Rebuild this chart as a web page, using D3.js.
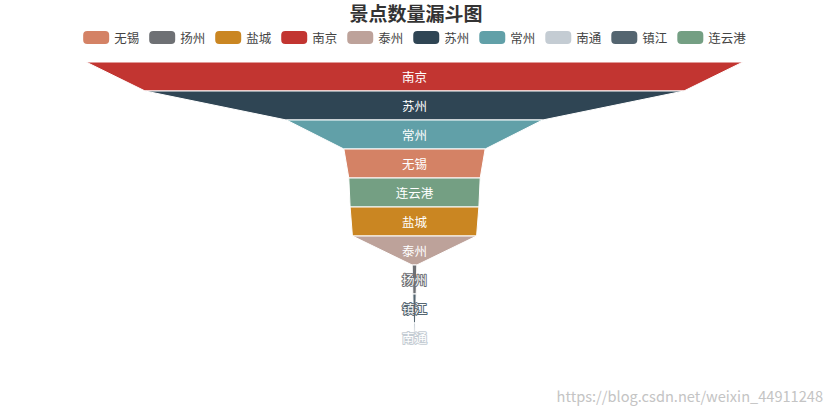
<!DOCTYPE html>
<html>
<head>
<meta charset="utf-8">
<script src="https://cdn.jsdelivr.net/npm/d3@7/dist/d3.min.js"></script>
<style>
  html, body { margin: 0; padding: 0; background: #fff; }
  svg { display: block; }
  text { font-family: "Noto Sans CJK SC", "Noto Sans", sans-serif; }
</style>
</head>
<body>
<svg id="chart" width="831" height="416"></svg>
<script>
// ---- data ----
const titleText = "景点数量漏斗图";
const categories = ["南京", "苏州", "常州", "无锡", "连云港", "盐城", "泰州", "扬州", "镇江", "南通"];
const values = [100, 82, 39, 21.5, 20, 19.6, 18.9, 0.7, 0.5, 0.3];
const legendOrder = ["无锡", "扬州", "盐城", "南京", "泰州", "苏州", "常州", "南通", "镇江", "连云港"];
const colorNames = ["南京", "苏州", "常州", "无锡", "连云港", "盐城", "泰州", "扬州", "镇江", "南通"];
const colorValues = ["#c23531", "#2f4554", "#61a0a8", "#d48265", "#749f83", "#ca8622", "#bda29a", "#6e7074", "#546570", "#c4ccd3"];
const watermark = "https://blog.csdn.net/weixin_44911248";

// ---- layout ----
const svg = d3.select("#chart");
const cx = 414.5;
const funnelTop = 62, funnelBottom = 352;
const maxWidth = 657;

const color = d3.scaleOrdinal(colorNames, colorValues);
const w = d3.scaleLinear([0, 100], [0, maxWidth]).clamp(true);
const y = d3.scaleBand(categories, [funnelTop, funnelBottom]).padding(0);

// Title
svg.append("text")
  .attr("x", 416).attr("y", 21)
  .attr("text-anchor", "middle")
  .attr("font-size", 19).attr("font-weight", "bold")
  .attr("fill", "#333")
  .text(titleText);

// Legend
const iconW = 26, iconH = 13, textGap = 5, itemGap = 10, legendFont = 12.5;
const legend = svg.append("g");
let lx = 0;
const items = [];
legendOrder.forEach(name => {
  const g = legend.append("g");
  g.append("rect")
    .attr("x", 0).attr("y", -iconH / 2)
    .attr("width", iconW).attr("height", iconH)
    .attr("rx", 4).attr("ry", 4)
    .attr("fill", color(name));
  const t = g.append("text")
    .attr("x", iconW + textGap).attr("y", 0)
    .attr("dominant-baseline", "central")
    .attr("font-size", legendFont)
    .attr("fill", "#444")
    .text(name);
  const tw = t.node().getComputedTextLength();
  items.push({ g, x: lx });
  lx += iconW + textGap + tw + itemGap;
});
const legendWidth = lx - itemGap;
const legendStart = cx - legendWidth / 2;
items.forEach(it => it.g.attr("transform", `translate(${legendStart + it.x},37.5)`));

// Funnel
const layers = categories.map((c, i) => ({
  name: c,
  top: values[i],
  bottom: i + 1 < values.length ? values[i + 1] : 0
}));

const funnel = svg.append("g");
funnel.selectAll("path")
  .data(layers)
  .join("path")
  .attr("d", d => {
    const y0 = y(d.name), y1 = y0 + y.bandwidth();
    const tw = w(d.top) / 2, bw = w(d.bottom) / 2;
    return `M${cx - tw},${y0}L${cx + tw},${y0}L${cx + bw},${y1}L${cx - bw},${y1}Z`;
  })
  .attr("fill", d => color(d.name))
  .attr("stroke", "#fff")
  .attr("stroke-width", 1)
  .attr("stroke-linejoin", "round");

funnel.selectAll("text")
  .data(layers)
  .join("text")
  .attr("x", cx)
  .attr("y", d => y(d.name) + y.bandwidth() / 2)
  .attr("text-anchor", "middle")
  .attr("dominant-baseline", "central")
  .attr("font-size", 12.5)
  .attr("fill", "#fff")
  .attr("stroke", d => color(d.name))
  .attr("stroke-width", 2)
  .attr("paint-order", "stroke")
  .attr("stroke-linejoin", "round")
  .text(d => d.name);

// Watermark
svg.append("text")
  .attr("x", 823).attr("y", 402)
  .attr("text-anchor", "end")
  .attr("font-family", "'Liberation Sans', Arial, sans-serif")
  .attr("font-size", 14.6)
  .attr("fill", "#c4c4c4")
  .text(watermark);
</script>
</body>
</html>
